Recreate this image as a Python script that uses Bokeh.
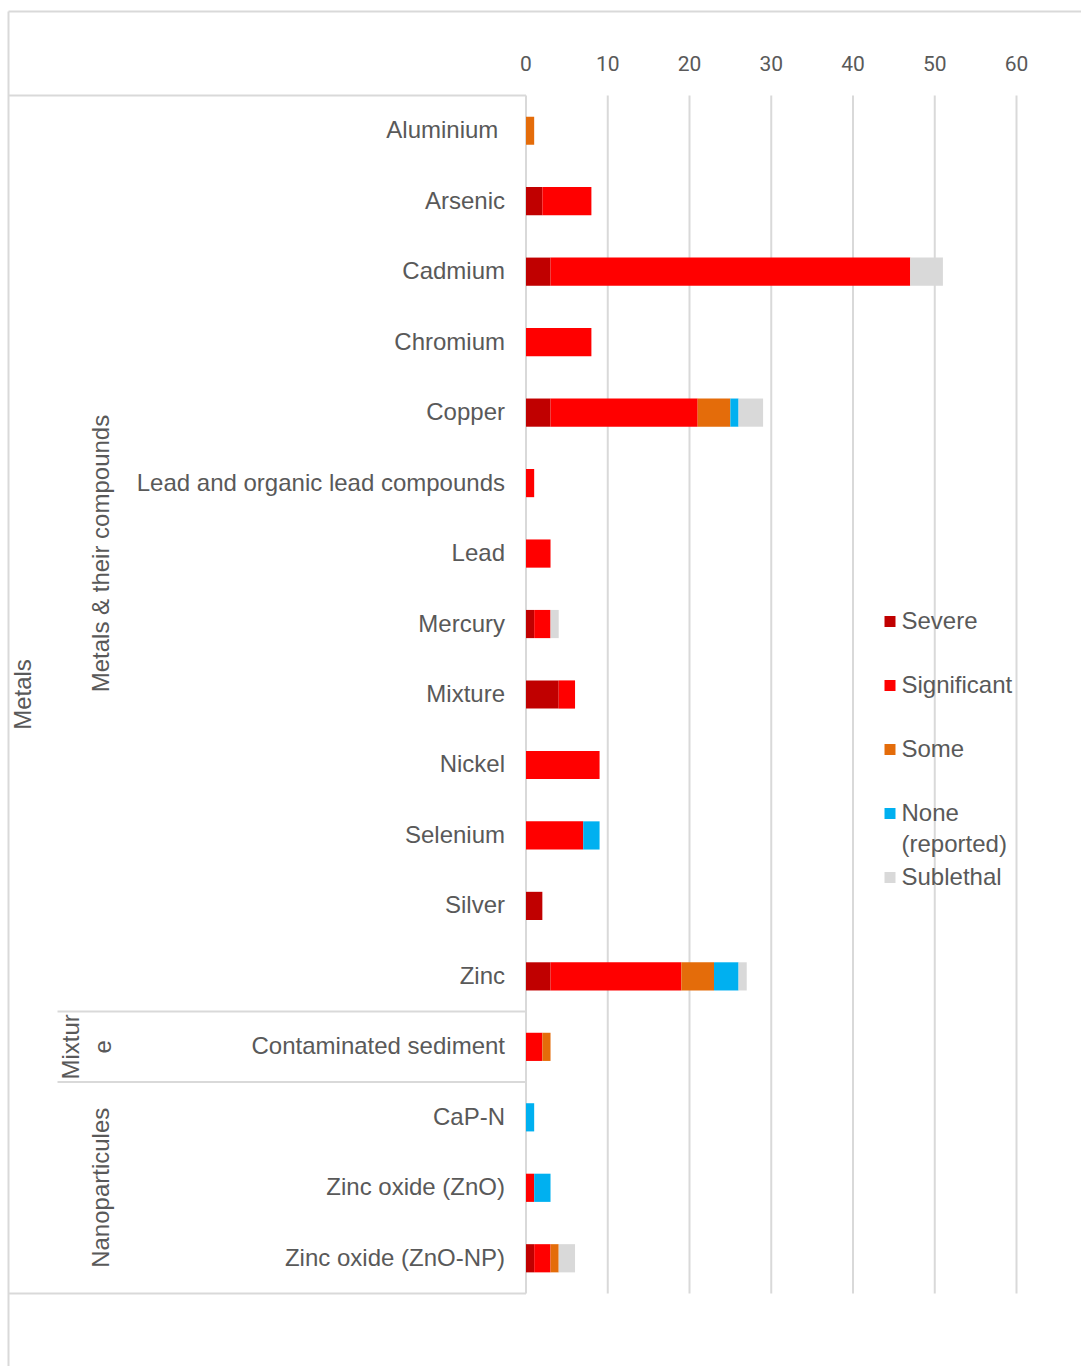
import math

from bokeh.core.properties import value
from bokeh.embed import file_html
from bokeh.models import ColumnDataSource, Range1d
from bokeh.plotting import figure
from bokeh.resources import INLINE

# ---- data -------------------------------------------------------------
items = [
    "Aluminium ", "Arsenic", "Cadmium", "Chromium", "Copper",
    "Lead and organic lead compounds", "Lead", "Mercury", "Mixture",
    "Nickel", "Selenium", "Silver", "Zinc",
    "Contaminated sediment",
    "CaP-N", "Zinc oxide (ZnO)", "Zinc oxide (ZnO-NP)",
]
severe        = [0, 2, 3, 0, 3, 0, 0, 1, 4, 0, 0, 2, 3, 0, 0, 0, 1]
significant   = [0, 6, 44, 8, 18, 1, 3, 2, 2, 9, 7, 0, 16, 2, 0, 1, 2]
some          = [1, 0, 0, 0, 4, 0, 0, 0, 0, 0, 0, 0, 4, 1, 0, 0, 1]
none_reported = [0, 0, 0, 0, 1, 0, 0, 0, 0, 0, 2, 0, 3, 0, 1, 2, 0]
sublethal     = [0, 0, 4, 0, 3, 0, 0, 1, 0, 0, 0, 0, 1, 0, 0, 0, 2]

series_names = ["Severe", "Significant", "Some", "None\n(reported)", "Sublethal"]
series_keys = ["severe", "significant", "some", "none_reported", "sublethal"]
series_colors = ["#C00000", "#FF0000", "#E46C0A", "#00B0F0", "#D9D9D9"]

# subgroups: (label, first row, row count); top group spans every row
subgroups = [("Metals & their compounds", 0, 13), ("Mixtur\ne", 13, 1), ("Nanoparticules", 14, 3)]
top_group = "Metals"

ticks = [0, 10, 20, 30, 40, 50, 60]
tick_labels = ["0", "10", "20", "30", "40", "50", "60"]

# ---- layout helpers (pixel -> data) -------------------------------------
W, H = 1081, 1366
X0_PX = 525.5                    # pixel column of value 0
PPU = (1016.0 - X0_PX) / 60.0    # pixels per unit
ROW_TOP = 95.0
N = len(items)
ROW_H = (1293.0 - ROW_TOP) / N


def dx(px):
    return (px - X0_PX) / PPU


def dy(py):
    return (py - ROW_TOP) / ROW_H


GRAY = "#D9D9D9"
TEXT = "#595959"
ARIAL = value("Liberation Sans")
TICK_FONT = value("Roboto")

p = figure(
    width=W, height=H,
    x_range=Range1d(dx(0), dx(W)), y_range=Range1d(dy(H), dy(0)),
    x_axis_location=None, y_axis_location=None,
    output_backend="svg", toolbar_location=None, min_border=0,
)
p.outline_line_color = None
p.xgrid.visible = False
p.ygrid.visible = False
p.background_fill_color = "white"
p.border_fill_color = "white"

# outer chart border (top and left edges)
p.segment(x0=[dx(8), dx(8)], y0=[dy(11), dy(11)], x1=[dx(W), dx(8)], y1=[dy(11), dy(H)],
          line_color=GRAY, line_width=2)

# value grid and zero line
p.segment(x0=ticks, y0=[0] * len(ticks), x1=ticks, y1=[N] * len(ticks),
          line_color=GRAY, line_width=2)

# category box and separators
p.segment(x0=[dx(8), dx(8)], y0=[0, N], x1=[0, 0], y1=[0, N], line_color=GRAY, line_width=2)
sep_rows = [g[1] for g in subgroups[1:]]
p.segment(x0=[dx(57)] * len(sep_rows), y0=sep_rows, x1=[0] * len(sep_rows), y1=sep_rows,
          line_color=GRAY, line_width=2)

# stacked bars
rows = [i + 0.5 for i in range(N)]
source = ColumnDataSource(dict(
    item=items, row=rows, severe=severe, significant=significant, some=some,
    none_reported=none_reported, sublethal=sublethal,
))
p.hbar_stack(series_keys, y="row", height=0.4, color=series_colors, line_color=None,
             source=source)

# value tick labels above the plot
p.text(x=ticks, y=[dy(63)] * len(ticks), text=tick_labels, text_font=TICK_FONT,
       text_font_size="21px", text_color=TEXT, text_align="center", text_baseline="middle")

# category labels
p.text(x=[0] * N, y=rows, text=items, x_offset=-21, y_offset=-1, text_font=ARIAL,
       text_font_size="24px", text_color=TEXT, text_align="right", text_baseline="middle")

# rotated subgroup labels
sub_x = [dx(100), dx(86), dx(100)]
sub_y = [g[1] + g[2] / 2 for g in subgroups]
p.text(x=sub_x, y=sub_y, text=[g[0] for g in subgroups], angle=math.pi / 2,
       text_font=ARIAL, text_font_size="24px", text_color=TEXT, text_align="center",
       text_baseline="middle", text_line_height=1.17)

# rotated top-level group label
p.text(x=[dx(22)], y=[N / 2], text=[top_group], angle=math.pi / 2, text_font=ARIAL,
       text_font_size="24px", text_color=TEXT, text_align="center", text_baseline="middle")

# legend
leg_y = [dy(621 + 64 * i) for i in range(len(series_names))]
p.rect(x=[dx(889.5)] * len(series_names), y=leg_y, width=11, height=11,
       width_units="screen", height_units="screen", fill_color=series_colors, line_color=None)
p.text(x=[dx(901)] * len(series_names), y=[dy(621 + 64 * i - 15) for i in range(len(series_names))],
       text=series_names, text_font=ARIAL, text_font_size="24px", text_color=TEXT,
       text_align="left", text_baseline="top", text_line_height=1.17)

open("out.html", "w").write(file_html(p, INLINE))
